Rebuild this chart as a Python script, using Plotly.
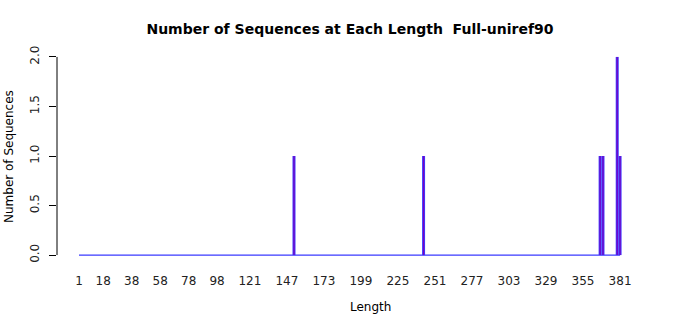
import plotly.graph_objects as go

# Data
lengths = [152, 243, 367, 369, 379, 381]
counts = [1, 1, 1, 1, 2, 1]
x_min_len = 1
x_max_len = 381
tick_vals = [1, 18, 38, 58, 78, 98, 121, 147, 173, 199, 225, 251, 277, 303, 329, 355, 381]
y_ticks = [0.0, 0.5, 1.0, 1.5, 2.0]

BLUE = "#3a3aff"
PURPLE = "#7a00c0"
FONT = "DejaVu Sans"

def spikes(xs, ys):
    X, Y = [], []
    for x, y in zip(xs, ys):
        X += [x, x, None]
        Y += [0, y, None]
    return X, Y

sx, sy = spikes(lengths, counts)

fig = go.Figure()
# baseline at zero across all lengths
fig.add_trace(go.Scatter(x=[x_min_len, x_max_len], y=[0, 0], mode="lines",
                         line=dict(color=BLUE, width=1.2), hoverinfo="skip", showlegend=False))
fig.add_trace(go.Scatter(x=sx, y=sy, mode="lines",
                         line=dict(color=BLUE, width=3), showlegend=False))
fig.add_trace(go.Scatter(x=sx, y=sy, mode="lines",
                         line=dict(color=PURPLE, width=1.2), showlegend=False))

# y axis line from 0 to 2 (R style)
fig.add_shape(type="line", xref="paper", yref="y", x0=0, x1=0, y0=0, y1=2,
              line=dict(color="black", width=1))

fig.update_layout(
    width=700, height=315,
    margin=dict(l=57, r=60, t=49, b=52),
    paper_bgcolor="white", plot_bgcolor="white",
    font=dict(family=FONT, size=12, color="black"),
    title=dict(text="<b>Number of Sequences at Each Length  Full-uniref90</b>",
               x=0.5, xanchor="center", y=1 - 29 / 315, yanchor="middle",
               font=dict(size=14, family=FONT, color="black")),
    xaxis=dict(range=[-14.45, 395], tickvals=tick_vals, ticktext=[str(v) for v in tick_vals],
               showgrid=False, zeroline=False, showline=False, ticks="",
               ticklabelstandoff=9, tickfont=dict(size=12, color="#222")),
    yaxis=dict(range=[-0.08, 2.08], tickvals=y_ticks,
               ticktext=[f"{v:.1f}" for v in y_ticks],
               showgrid=False, zeroline=False, showline=False,
               ticks="outside", ticklen=7, tickcolor="black",
               ticklabelstandoff=5,
               tickangle=-90, tickfont=dict(size=12, color="#222")),
    annotations=[
        dict(text="Length", xref="paper", yref="paper", x=(370 - 57) / 583, y=-(307 - 263) / 214,
             xanchor="center", yanchor="middle", showarrow=False, font=dict(size=12)),
        dict(text="Number of Sequences", xref="paper", yref="paper", x=-(57 - 9) / 583,
             y=(263 - 157) / 214, xanchor="center", yanchor="middle", textangle=-90,
             showarrow=False, font=dict(size=12)),
    ],
)

fig.write_html("out.html")
